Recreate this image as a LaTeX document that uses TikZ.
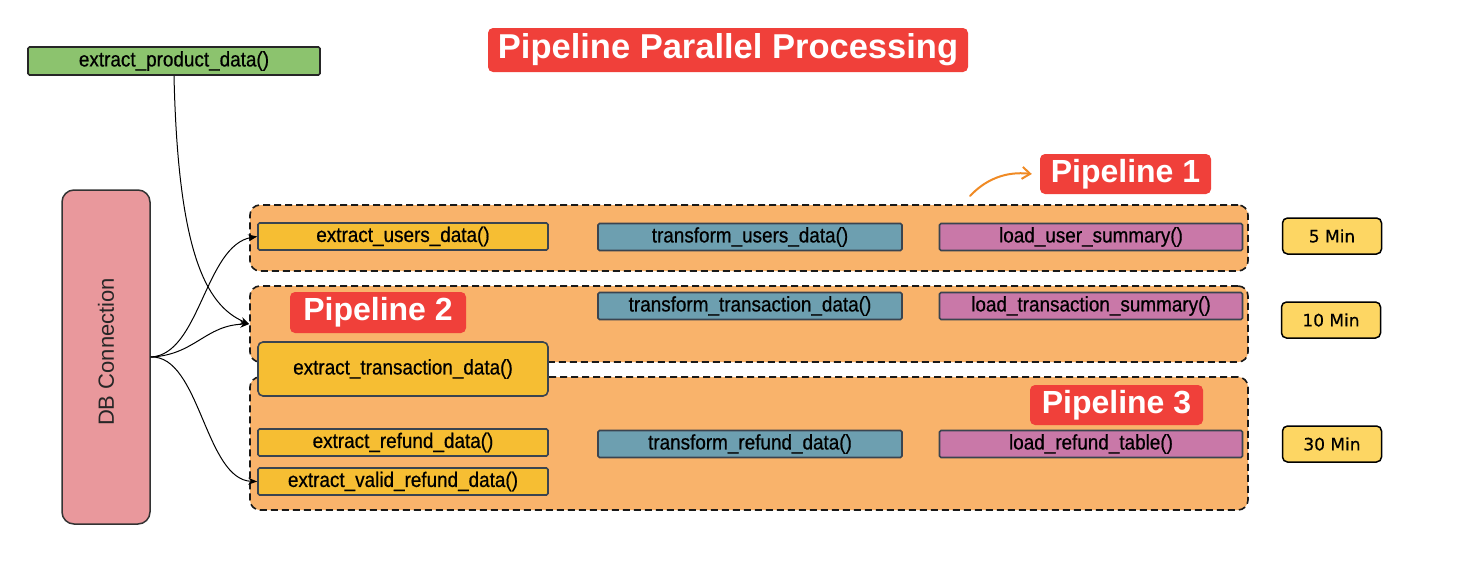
\documentclass[tikz,border=0pt]{standalone}
\usepackage{fontspec}
\setmainfont{Liberation Sans}
\newfontfamily\narrowfont[FakeStretch=0.9,FakeBold=0.6]{Liberation Sans}
\newfontfamily\minfont[FakeBold=0.5]{DejaVu Sans}
\usetikzlibrary{arrows.meta}
\definecolor{orng}{HTML}{F9B36B}
\definecolor{yel}{HTML}{F6BE33}
\definecolor{tealb}{HTML}{6D9FB0}
\definecolor{pinkp}{HTML}{C978A8}
\definecolor{minyel}{HTML}{FDD663}
\definecolor{redl}{HTML}{F0403A}
\definecolor{grn}{HTML}{8CC36E}
\definecolor{dbpink}{HTML}{E9989C}
\definecolor{boxline}{HTML}{3A4450}
\definecolor{arrorange}{HTML}{F08A24}
\begin{document}
\begin{tikzpicture}[x=1pt,y=-1pt,
  fn/.style={draw=boxline, line width=1.6pt, rounded corners=1.5pt, minimum height=27pt,
    inner sep=0pt, font=\narrowfont\fontsize{21}{21}\selectfont, text=black, anchor=center},
  extractbox/.style={fn, fill=yel, minimum width=290pt},
  transbox/.style={fn, fill=tealb, minimum width=304pt},
  loadbox/.style={fn, fill=pinkp, minimum width=303pt},
  minbox/.style={draw=black, fill=minyel, line width=1.5pt, rounded corners=5pt,
    minimum width=99pt, minimum height=36pt, inner sep=0pt, font=\minfont\fontsize{17}{17}\selectfont},
  redlabel/.style={fill=redl, text=white, rounded corners=5pt, inner sep=0pt,
    minimum height=40pt, font=\bfseries\fontsize{32}{32}\selectfont},
  pipebox/.style={draw=black!90, fill=orng, line width=1.6pt, dash pattern=on 7pt off 4pt,
    rounded corners=10pt, inner sep=0pt},
  conn/.style={draw=black, line width=1pt, -{Stealth[length=9pt,width=7pt]}}
]
\useasboundingbox (0,0) rectangle (1458,570);
\fill[white] (0,0) rectangle (1458,570);

% title
\node[redlabel, minimum width=480pt, minimum height=44pt, font=\bfseries\fontsize{34.5}{34.5}\selectfont] (title) at (728,50) {Pipeline Parallel Processing};

% product
\node[fn, draw=black!85, fill=grn, minimum width=292pt, minimum height=28pt] (ep) at (174,61) {extract\_product\_data()};

% DB
\node[draw=black!80, line width=1.5pt, fill=dbpink, rounded corners=12pt, minimum width=88pt, minimum height=334pt, inner sep=0pt] (db) at (106,357) {};
\node[rotate=90, font=\fontsize{22}{22}\selectfont, text=black!85] (dbt) at (106,352) {DB Connection};

% pipeline containers
\node[pipebox, minimum width=998pt, minimum height=66pt] (p1) at (749,238) {};
\node[pipebox, minimum width=998pt, minimum height=76pt] (p2) at (749,324) {};
\node[pipebox, minimum width=998pt, minimum height=133pt] (p3) at (749,443.5) {};

% pipeline 1
\node[extractbox] (eu) at (403,236.5) {extract\_users\_data()};
\node[transbox] (tu) at (750,237) {transform\_users\_data()};
\node[loadbox] (lu) at (1091,237) {load\_user\_summary()};
\node[minbox] (m5) at (1332,236) {5 Min};
\node[redlabel, minimum width=171pt] (p1lab) at (1125.5,174) {Pipeline 1};

% pipeline 2
\node[redlabel, minimum width=176pt, minimum height=41pt] (p2lab) at (378,312.5) {Pipeline 2};
\node[transbox] (tt) at (750,306) {transform\_transaction\_data()};
\node[loadbox] (lt) at (1091,306) {load\_transaction\_summary()};
\node[minbox] (m10) at (1331,320) {10 Min};
\node[extractbox, rounded corners=5pt, minimum height=54pt] (et) at (403,369) {extract\_transaction\_data()};

% pipeline 3
\node[redlabel, minimum width=173pt] (p3lab) at (1116.5,405) {Pipeline 3};
\node[extractbox] (er) at (403,442.5) {extract\_refund\_data()};
\node[transbox] (tr) at (750,444) {transform\_refund\_data()};
\node[loadbox] (lr) at (1091,444) {load\_refund\_table()};
\node[minbox] (m30) at (1332,444) {30 Min};
\node[extractbox] (ev) at (403,481.5) {extract\_valid\_refund\_data()};

% connectors
\draw[conn] (db.east) .. controls (200,355) and (205,245) .. (eu.west);
\draw[conn] (db.east) .. controls (195,355) and (205,325) .. (p2.west);
\draw[conn] (db.east) .. controls (200,355) and (205,480) .. (ev.west);
\draw[conn] (ep.south) .. controls (178,250) and (205,305) .. (p2.west);

% orange arrow
\coordinate (oa) at (970,196);
\coordinate (ob) at ([xshift=-8pt]p1lab.west);
\draw[arrorange, line width=2pt, line cap=round, -{Straight Barb[length=8pt,width=12pt]}] (oa) .. controls (985,180) and (1005,171) .. (ob);
\end{tikzpicture}
\end{document}
